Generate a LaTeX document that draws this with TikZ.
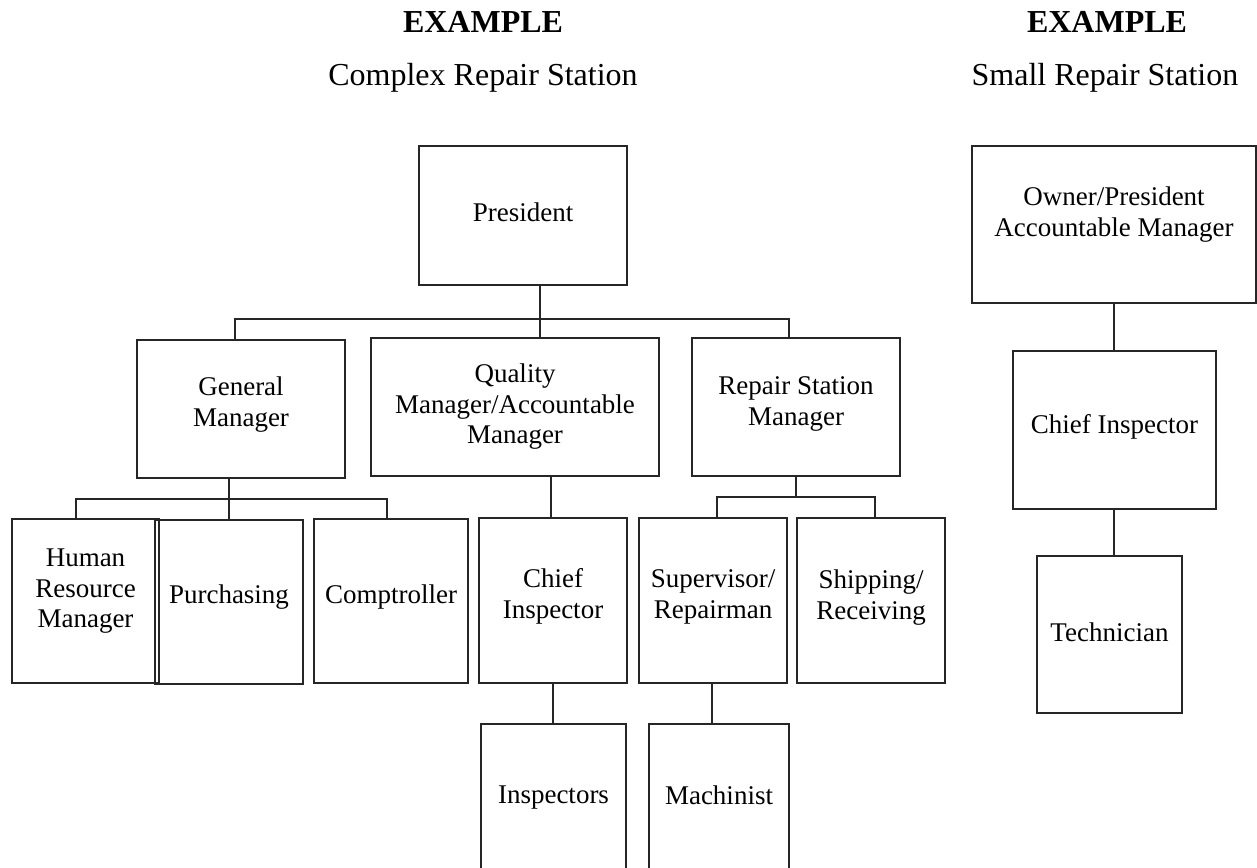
\documentclass[tikz,border=0pt]{standalone}
\usepackage{fontspec}
\setmainfont{Liberation Serif}
\newcommand\orgbox[5]{\node[box,minimum width={(#4-#2)*1pt},minimum height={(#5-#3)*1pt}] (#1) at ({(#2+#4)/2},{(#3+#5)/2}) {};}
\tikzset{
  box/.style={draw=black!85, line width=1.2pt, inner sep=0pt, outer sep=0pt, rectangle},
  txt/.style={inner sep=0pt, align=center, anchor=north, font=\fontsize{27}{30.5}\selectfont},
  conn/.style={draw=black!85, line width=1.2pt},
  ttl/.style={anchor=base, inner sep=0pt, font=\fontsize{32}{38}\selectfont},
  ttlb/.style={anchor=base, inner sep=0pt, font=\fontsize{32}{38}\selectfont\bfseries},
}
\begin{document}
\begin{tikzpicture}[x=1pt,y=-1pt]
\useasboundingbox (0,0) rectangle (1257,867);
\fill[white] (0,0) rectangle (1257,867);
% titles
\node[ttlb] (ex1) at (483,33) {EXAMPLE};
\node[ttl] (t1) at (483,85) {Complex Repair Station};
\node[ttlb] (ex2) at (1107,33) {EXAMPLE};
\node[ttl] (t2) at (1105,85) {Small Repair Station};
% boxes
\orgbox{pres}{419}{146}{627}{285}
\orgbox{gm}{137}{340}{345}{478}
\orgbox{qm}{371}{338}{659}{476}
\orgbox{rsm}{692}{338}{900}{476}
\orgbox{hr}{12}{519}{159}{683}
\orgbox{pur}{155}{520}{303}{684}
\orgbox{comp}{314}{519}{468}{683}
\orgbox{ci}{479}{518}{627}{683}
\orgbox{sup}{639}{518}{787}{683}
\orgbox{ship}{797}{518}{945}{683}
\orgbox{insp}{481}{724}{626}{900}
\orgbox{mach}{649}{724}{789}{900}
\orgbox{own}{972}{146}{1256}{303}
\orgbox{sci}{1013}{351}{1216}{509}
\orgbox{tech}{1037}{556}{1182}{713}
% texts
\node[txt] (pres-t) at (pres.center |- 0,202.6) {President};
\node[txt] (gm-t) at (gm.center |- 0,376.6) {General\\Manager};
\node[txt] (qm-t) at (qm.center |- 0,363.6) {Quality\\Manager/Accountable\\Manager};
\node[txt] (rsm-t) at (rsm.center |- 0,376.6) {Repair Station\\Manager};
\node[txt] (hr-t) at (hr.center |- 0,549) {Human\\Resource\\Manager};
\node[txt] (pur-t) at (pur.center |- 0,584.6) {Purchasing};
\node[txt] (comp-t) at (comp.center |- 0,584.6) {Comptroller};
\node[txt] (ci-t) at (ci.center |- 0,568.6) {Chief\\Inspector};
\node[txt] (sup-t) at (sup.center |- 0,569.6) {Supervisor/\\Repairman};
\node[txt] (ship-t) at (ship.center |- 0,569.6) {Shipping/\\Receiving};
\node[txt] (insp-t) at (insp.center |- 0,785.6) {Inspectors};
\node[txt] (mach-t) at (mach.center |- 0,785.6) {Machinist};
\node[txt] (own-t) at (own.center |- 0,186.6) {Owner/President\\Accountable Manager};
\node[txt] (sci-t) at (sci.center |- 0,414.6) {Chief Inspector};
\node[txt] (tech-t) at (tech.center |- 0,622.6) {Technician};
% connector points
\coordinate (xqm) at (540,319);
\coordinate (xgm) at (235,319);
\coordinate (xrsm) at (789,319);
\coordinate (g1) at (76,499);
\coordinate (g2) at (229,499);
\coordinate (g3) at (387,499);
\coordinate (q1) at (551,500);
\coordinate (r1) at (717,497);
\coordinate (r2) at (796,497);
\coordinate (r3) at (875,497);
\coordinate (c1) at (553,700);
\coordinate (s1) at (712,700);
\coordinate (o1) at (1114,330);
% connectors
\draw[conn] (pres.south -| xqm) -- (xqm) -- (qm.north -| xqm);
\draw[conn] (gm.north -| xgm) -- (xgm) -- (xrsm) -- (rsm.north -| xrsm);
\draw[conn] (gm.south -| g2) -- (g2) -- (pur.north -| g2);
\draw[conn] (hr.north -| g1) -- (g1) -- (g3) -- (comp.north -| g3);
\draw[conn] (qm.south -| q1) -- (ci.north -| q1);
\draw[conn] (rsm.south -| r2) -- (r2);
\draw[conn] (sup.north -| r1) -- (r1) -- (r3) -- (ship.north -| r3);
\draw[conn] (ci.south -| c1) -- (insp.north -| c1);
\draw[conn] (sup.south -| s1) -- (mach.north -| s1);
\draw[conn] (own.south -| o1) -- (sci.north -| o1);
\draw[conn] (sci.south -| o1) -- (tech.north -| o1);
\end{tikzpicture}
\end{document}
